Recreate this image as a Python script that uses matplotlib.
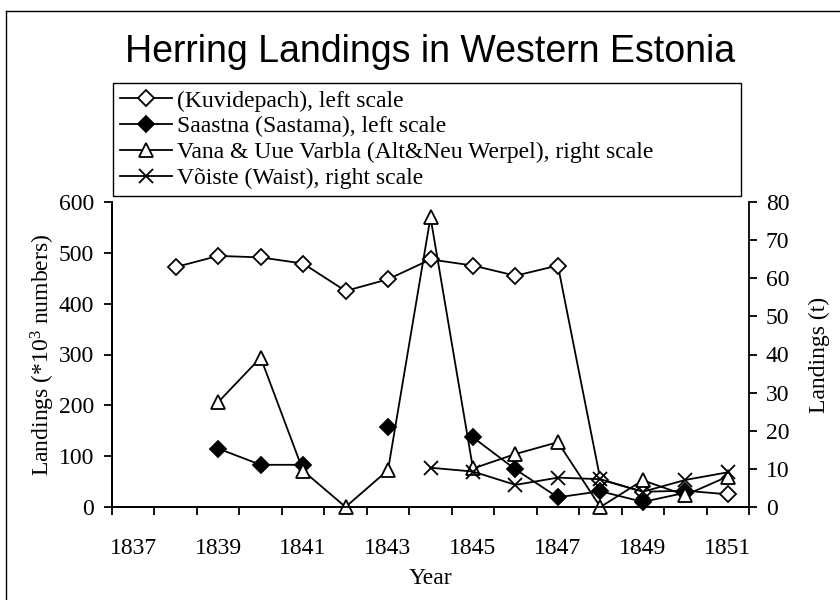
import matplotlib
matplotlib.use("Agg")
import matplotlib.pyplot as plt
import numpy as np
from matplotlib.lines import Line2D

nan = np.nan
years = list(range(1837, 1852))
year_labels = [1837, 1839, 1841, 1843, 1845, 1847, 1849, 1851]

# left scale (*10^3 numbers)
kuvidepach = [nan, 472, 494, 491, 479, 425, 448, 487, 475, 455, 475, 54, 30, 32, 25]
saastna = [nan, nan, 115, 83, 83, nan, 157, nan, 137, 74, 19, 31, 10, 28, nan]
# right scale (t)
varbla = [nan, nan, 27.5, 39.2, 9.5, 0, 9.7, 76, 10.1, 13.9, 17.0, 0, 7.0, 3.1, 8.0]
voiste = [nan, nan, nan, nan, nan, nan, nan, 10.3, 9.3, 5.8, 7.7, 7.3, 4.0, 7.1, 9.1]

names = ["(Kuvidepach), left scale",
         "Saastna (Sastama), left scale",
         "Vana & Uue Varbla (Alt&Neu Werpel), right scale",
         "Võiste (Waist), right scale"]

plt.rcParams['font.family'] = ['Liberation Serif', 'DejaVu Serif']
plt.rcParams['mathtext.fontset'] = 'custom'
plt.rcParams['mathtext.rm'] = 'Liberation Serif'
plt.rcParams['mathtext.it'] = 'Liberation Serif'

fig = plt.figure(figsize=(8.4, 6), dpi=100)
ax = fig.add_axes([112 / 840, 93 / 600, 637 / 840, 305 / 600])
ax2 = ax.twinx()

lw = 1.3
mew = 1.3
common = dict(color='black', lw=lw, mew=mew, clip_on=False)
l1, = ax.plot(years, kuvidepach, marker='D', ms=8, mfc='white', mec='black', **common)
l2, = ax.plot(years, saastna, marker='D', ms=8, mfc='black', mec='black', **common)
l3, = ax2.plot(years, varbla, marker='^', ms=10, mfc='white', mec='black', **common)
l4, = ax2.plot(years, voiste, marker='x', ms=10, mec='black', **common)

ax.set_xlim(1836.5, 1851.5)
ax.set_ylim(0, 600)
ax2.set_ylim(0, 80)
ax.set_yticks(range(0, 601, 100))
ax2.set_yticks(range(0, 81, 10))
ax.set_xticks(year_labels)
ax.set_xticks(np.arange(1836.5, 1852, 1), minor=True)

for a in (ax, ax2):
    a.spines['top'].set_visible(False)
    for s in a.spines.values():
        s.set_linewidth(1.3)
ax.spines['right'].set_visible(False)

ax.tick_params(axis='x', which='major', length=0, pad=22, labelsize=17)
ax.tick_params(axis='x', which='minor', length=6, width=1.3, direction='out')
ax.tick_params(axis='y', length=6, width=1.3, direction='out', labelsize=17, pad=7)
ax2.tick_params(axis='y', length=6, width=1.3, direction='out', labelsize=17, pad=6)

ax.set_xlabel("Year", fontsize=17, labelpad=7)
ax.set_ylabel("Landings (*10$^3$ numbers)", fontsize=17, labelpad=1)
ax2.set_ylabel("Landings (t)", fontsize=17, labelpad=14)

fig.suptitle("Herring Landings in Western Estonia", x=430 / 840, y=1 - 34 / 600,
             fontsize=27, family=['Liberation Sans', 'DejaVu Sans'], va='top')

leg = fig.legend([l1, l2, l3, l4], names, loc='upper left', mode='expand',
                 bbox_to_anchor=(113 / 840, 0, 628 / 840, 1 - 83 / 600), fontsize=17,
                 frameon=True, fancybox=False, edgecolor='black', framealpha=1,
                 borderaxespad=0, handlelength=2.2, handletextpad=0.2,
                 labelspacing=0.18, borderpad=0.3)
leg.get_frame().set_linewidth(1.0)

# outer chart border
fig.add_artist(Line2D([6 / 840, 6 / 840], [0, 1 - 11 / 600], transform=fig.transFigure,
                      color='black', lw=1))
fig.add_artist(Line2D([6 / 840, 1], [1 - 11 / 600, 1 - 11 / 600], transform=fig.transFigure,
                      color='black', lw=1))

fig.savefig("out.png", dpi=100)
